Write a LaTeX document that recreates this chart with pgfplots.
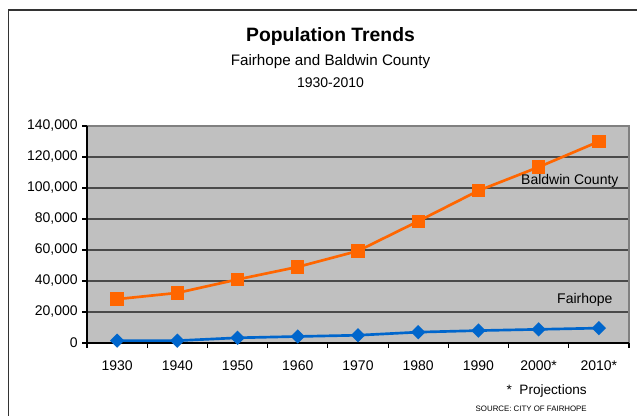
\documentclass[border=0pt]{standalone}
\usepackage{pgfplots}
\pgfplotsset{compat=1.18}
\usepackage{fontspec}
\setmainfont{Liberation Sans}
\definecolor{plotbg}{HTML}{C0C0C0}
\definecolor{gridc}{HTML}{4A4A4A}
\definecolor{borderc}{HTML}{808080}
\definecolor{orangeS}{HTML}{FF6600}
\definecolor{blueS}{HTML}{0066CC}
\pgfplotstableread{
x year pop
0 1930 28289
1 1940 32324
2 1950 40997
3 1960 49088
4 1970 59382
5 1980 78556
6 1990 98280
7 2000 113500
8 2010 130000
}\baldwin
\pgfplotstableread{
x year pop
0 1930 1500
1 1940 1500
2 1950 3350
3 1960 4200
4 1970 5000
5 1980 7000
6 1990 8000
7 2000 8800
8 2010 9600
}\fairhope
\begin{document}
\begin{tikzpicture}
\useasboundingbox (0,0) rectangle (477.75pt,312pt);
\begin{axis}[
  at={(65.25pt,54.75pt)}, anchor=south west,
  scale only axis, width=406.5pt, height=162.75pt,
  xmin=-0.5, xmax=8.5, ymin=0, ymax=140000,
  axis background/.style={fill=plotbg},
  axis line style={draw=none},
  xtick={-0.5,0.5,1.5,2.5,3.5,4.5,5.5,6.5,7.5,8.5},
  x tick label as interval,
  xticklabels={1930,1940,1950,1960,1970,1980,1990,2000*,2010*},
  x tick label style={yshift=-6pt},
  xtick pos=bottom, ytick pos=left,
  ytick={0,20000,40000,60000,80000,100000,120000,140000},
  tick align=outside,
  major tick length=3.5pt,
  major tick style={black, line width=0.8pt},
  ymajorgrids,
  grid style={gridc, line width=1pt},
  scaled y ticks=false,
  yticklabels={0,{20,000},{40,000},{60,000},{80,000},{100,000},{120,000},{140,000}},
  tick label style={font=\fontsize{10.5}{12}\selectfont},
  clip=false,
]
\draw[borderc, line width=1.2pt] (rel axis cs:0,1) -- (rel axis cs:1,1) -- (rel axis cs:1,0);
\draw[black, line width=1pt] (rel axis cs:0,1) -- (rel axis cs:0,0) -- (rel axis cs:1,0);
\addplot[orangeS, line width=2pt, mark=square*, mark size=4pt, mark options={solid}] table[x=x,y=pop] {\baldwin};
\addplot[blueS, line width=2pt, mark=square*, mark size=2.8pt, mark options={solid, rotate=45}] table[x=x,y=pop] {\fairhope};
\node[anchor=east, font=\fontsize{10.5}{12}\selectfont, inner sep=0pt] at (axis cs:8.33,104500) {Baldwin County};
\node[anchor=east, font=\fontsize{10.5}{12}\selectfont, inner sep=0pt] at (axis cs:8.23,27700) {Fairhope};
\end{axis}
\begin{scope}[x=0.75pt,y=0.75pt]
\draw[black!80, line width=1.1pt] (8.5,0) -- (8.5,406) -- (637,406);
\node[font=\bfseries\fontsize{14.5}{17}\selectfont] at (330.5,379) {Population Trends};
\node[font=\fontsize{11.4}{13}\selectfont] at (330.5,354) {Fairhope and Baldwin County};
\node[font=\fontsize{10.5}{12}\selectfont] at (330.5,333) {1930-2010};
\node[anchor=east, font=\fontsize{10.2}{12}\selectfont, inner sep=0pt] at (587,25) {*\hspace{0.55em}Projections};
\node[anchor=east, font=\fontsize{5.9}{7}\selectfont, inner sep=0pt] at (587,7) {SOURCE: CITY OF FAIRHOPE};
\end{scope}
\end{tikzpicture}
\end{document}
